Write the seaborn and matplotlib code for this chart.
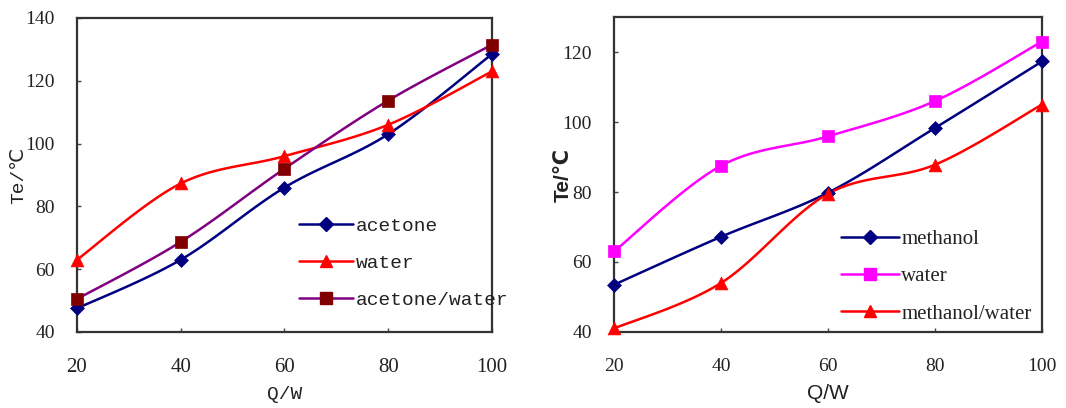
import numpy as np
import matplotlib
matplotlib.use("Agg")
import matplotlib.pyplot as plt
import seaborn as sns
from matplotlib.lines import Line2D

sns.set_theme(style="white")
plt.rcParams['font.family'] = ['Liberation Serif', 'DejaVu Sans']

# ---------------- data ----------------
q_power = [20, 40, 60, 80, 100]

left_labels = ["acetone", "water", "acetone/water"]
acetone = [47.5, 63, 86, 103, 128.5]
water_a = [63, 87.3, 96, 106, 123]
acetone_water = [50.5, 68.7, 92, 113.7, 131.5]

right_labels = ["methanol", "water", "methanol/water"]
methanol = [53.5, 67.2, 79.8, 98.3, 117.3]
water_m = [63, 87.5, 95.9, 106, 123]
methanol_water = [41, 54, 79.5, 87.8, 105]

x_ticks = [20, 40, 60, 80, 100]
left_y_ticks = [40, 60, 80, 100, 120, 140]
right_y_ticks = [40, 60, 80, 100, 120]


def smooth(xs, ys, n=30):
    """Excel-like smoothed line (Catmull-Rom as cubic Bezier)."""
    p = np.column_stack([xs, ys]).astype(float)
    out = []
    for i in range(len(p) - 1):
        p0 = p[i - 1] if i > 0 else p[i]
        p1, p2 = p[i], p[i + 1]
        p3 = p[i + 2] if i + 2 < len(p) else p[i + 1]
        c1 = p1 + (p2 - p0) / 6.0
        c2 = p2 - (p3 - p1) / 6.0
        t = np.linspace(0, 1, n)[:, None]
        seg = ((1 - t) ** 3) * p1 + 3 * ((1 - t) ** 2) * t * c1 + 3 * (1 - t) * t ** 2 * c2 + t ** 3 * p2
        if i > 0:
            seg = seg[1:]
        out.append(seg)
    out = np.vstack(out)
    return out[:, 0], out[:, 1]


fig = plt.figure(figsize=(10.66, 4.08), dpi=100)
fig.patch.set_facecolor("white")
ax1 = fig.add_axes([0.0722, 0.1863, 0.3893, 0.7696])
ax2 = fig.add_axes([0.5760, 0.1863, 0.4015, 0.7720])


def draw(ax, series, styles):
    for ys, (lc, mk, mc, ms) in zip(series, styles):
        sx, sy = smooth(q_power, ys)
        ax.plot(sx, sy, color=lc, lw=1.8, zorder=2, clip_on=False)
        sns.scatterplot(x=q_power, y=ys, ax=ax, marker=mk, s=ms, color=mc,
                        edgecolor=mc, linewidth=0.5, zorder=3, legend=False,
                        clip_on=False)


left_styles = [("#000080", "D", "#000080", 50),
               ("#FF0000", "^", "#FF0000", 85),
               ("#800080", "s", "#800000", 85)]
right_styles = [("#000080", "D", "#000080", 50),
                ("#FF00FF", "s", "#FF00FF", 85),
                ("#FF0000", "^", "#FF0000", 85)]

draw(ax1, [acetone, water_a, acetone_water], left_styles)
draw(ax2, [methanol, water_m, methanol_water], right_styles)

for ax, yt, ylim in [(ax1, left_y_ticks, (40, 140)), (ax2, right_y_ticks, (40, 130))]:
    ax.set_xlim(20, 100)
    ax.set_ylim(*ylim)
    ax.set_xticks(x_ticks)
    ax.set_yticks(yt)
    ax.tick_params(axis='both', direction='in', length=3, width=1, color="#444444",
                   labelsize=14, bottom=True, left=True)
    ax.tick_params(axis='x', pad=19)
    ax.tick_params(axis='y', pad=16)
    for s in ax.spines.values():
        s.set_color("#333333")
        s.set_linewidth(1.6)
    ax.set_facecolor("white")
    ax.grid(False)
    for lab in ax.get_xticklabels() + ax.get_yticklabels():
        lab.set_fontfamily(['Liberation Serif', 'DejaVu Sans'])
        lab.set_color("#222222")

ax1.tick_params(axis='x', labelsize=15)

# axis labels
ax1.set_xlabel("Q/W", fontsize=14, fontfamily=['Liberation Mono', 'DejaVu Sans'],
               color="#222222", labelpad=6)
ax1.set_ylabel("Te/℃", fontsize=14, fontfamily=['Liberation Mono', 'DejaVu Sans'],
               color="#222222")
ax1.yaxis.set_label_coords(-0.12, 0.5)
ax2.set_xlabel("Q/W", fontsize=15, fontfamily=['Liberation Sans', 'DejaVu Sans'],
               color="#222222", labelpad=6)
ax2.set_ylabel("Te/℃", fontsize=15, fontweight='bold',
               fontfamily=['Liberation Sans', 'DejaVu Sans'], color="#222222")
ax2.yaxis.set_label_coords(-0.096, 0.5)


def legend(ax, labels, styles, fam, fs, anchor, spacing):
    handles = [Line2D([0], [0], color=lc, lw=1.8, marker=mk, markerfacecolor=mc,
                      markeredgecolor=mc, markersize=(7 if mk == 'D' else 9))
               for lc, mk, mc, ms in styles]
    lg = ax.legend(handles, labels, loc='upper left', bbox_to_anchor=anchor,
                   frameon=False, handlelength=2.8, handletextpad=0.1,
                   labelspacing=spacing, prop={'family': fam, 'size': fs},
                   borderaxespad=0, borderpad=0)
    for t in lg.get_texts():
        t.set_color("#222222")


legend(ax1, left_labels, left_styles, ['Liberation Mono', 'DejaVu Sans'], 14, (0.535, 0.365), 1.0)
legend(ax2, right_labels, right_styles, ['Liberation Serif', 'DejaVu Sans'], 15, (0.53, 0.325), 0.85)

fig.savefig("out.png", dpi=100, facecolor="white")
